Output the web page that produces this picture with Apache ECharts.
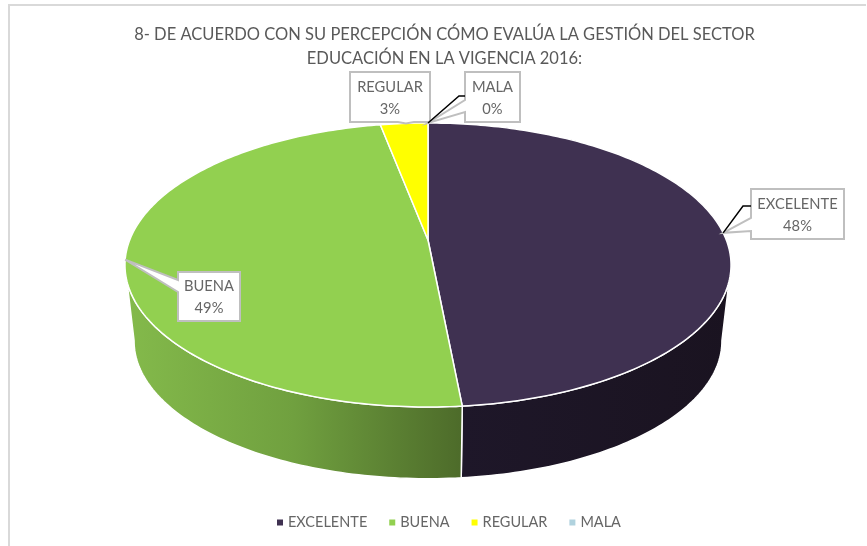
<!DOCTYPE html>
<html>
<head>
<meta charset="utf-8">
<script src="https://cdn.jsdelivr.net/npm/echarts@6/dist/echarts.min.js"></script>
<style>
html,body{margin:0;padding:0;background:#fff}
#main{width:867px;height:546px}
</style>
</head>
<body>
<div id="main"></div>
<script>
// datos
var categories = ['EXCELENTE', 'BUENA', 'REGULAR', 'MALA'];
var values = [48.49, 48.51, 3.0, 0];
var colors = ['#3f3151', '#92d050', '#ffff00', '#b0d2de'];
var titleText = '8- DE ACUERDO CON SU PERCEPCIÓN CÓMO EVALÚA LA GESTIÓN DEL SECTOR\nEDUCACIÓN EN LA VIGENCIA 2016:';

// degradado de la pared lateral por categoria
var wallStops = [
	[[0, '#1e1729'], [1, '#1a1320']],
	[[0, '#84ba4b'], [0.5, '#70a03f'], [1, '#4d6b2a']],
	[[0, '#b3b300'], [1, '#b3b300']],
	[[0, '#7b9399'], [1, '#7b9399']]
];
// cajas de etiquetas: x,y,w,h, angulo de anclaje, tramo de la cuña, codo de la guia
var labelBoxes = [
	{x: 751, y: 189, w: 93, h: 50, deg: 87, side: 'left', a: 218, b: 231, elbow: [743, 206], end: [751, 206]},
	{x: 178, y: 272, w: 62, h: 49, deg: 262, side: 'left', a: 280, b: 292},
	{x: 350, y: 72, w: 80, h: 50, deg: 355, side: 'bottom', a: 398, b: 414},
	{x: 465, y: 72, w: 55, h: 50, deg: 0, side: 'left', a: 100, b: 112, elbow: [459, 96], end: [465, 96]}
];

// geometria de la tapa en perspectiva
var cx = 428, cy = 240, rx = 298.3, ry = 137.6, k = 0.176;
var midY = 265, depth = 76, shrink = 0.97;

function topPoint(deg) {
	var t = deg * Math.PI / 180;
	var u = Math.sin(t), v = -Math.cos(t), w = 1 - k * v;
	return [cx + rx * u / w, cy + ry * v / w];
}
function bottomPoint(deg) {
	var p = topPoint(deg);
	return [cx + (p[0] - cx) * shrink, midY + depth + (p[1] - midY) * shrink];
}
function arc(fn, a, b) {
	var pts = [], n = Math.max(1, Math.ceil(Math.abs(b - a)));
	for (var i = 0; i <= n; i++) pts.push(fn(a + (b - a) * i / n));
	return pts;
}
function startAngle(idx) {
	var total = 0, before = 0;
	for (var i = 0; i < values.length; i++) {
		total += values[i];
		if (i < idx) before += values[i];
	}
	return before / total * 360;
}

function renderSlice(params, api) {
	var idx = params.seriesIndex;
	var share = api.value(0);
	var a = startAngle(idx);
	var b = a + share / 100 * 360;
	var kids = [];
	// pared lateral: solo la mitad frontal
	var wa = Math.max(a, 100), wb = Math.min(b, 260);
	if (share > 0 && wb > wa) {
		var wall = arc(topPoint, wa, wb).concat(arc(bottomPoint, wb, wa));
		var xs = wall.map(function (p) { return p[0]; });
		kids.push({
			type: 'polygon',
			shape: {points: wall},
			style: {
				fill: new echarts.graphic.LinearGradient(Math.min.apply(null, xs), 0, Math.max.apply(null, xs), 0,
					wallStops[idx].map(function (s) { return {offset: s[0], color: s[1]}; }), true),
				stroke: '#fff', lineWidth: 1.5
			}
		});
	}
	// tapa
	if (share > 0) {
		kids.push({
			type: 'polygon',
			shape: {points: [[cx, cy]].concat(arc(topPoint, a, b))},
			style: {fill: colors[idx], stroke: '#fff', lineWidth: 1.5}
		});
	}
	// etiqueta con cuña
	var box = labelBoxes[idx];
	var anchor = topPoint(box.deg);
	var x2 = box.x + box.w, y2 = box.y + box.h, outline;
	if (box.side === 'left') {
		outline = [[box.x, box.y], [x2, box.y], [x2, y2], [box.x, y2], [box.x, box.b], anchor, [box.x, box.a]];
	} else {
		outline = [[box.x, box.y], [x2, box.y], [x2, y2], [box.b, y2], anchor, [box.a, y2], [box.x, y2]];
	}
	kids.push({
		type: 'polygon',
		shape: {points: outline},
		style: {fill: '#fff', stroke: '#bfbfbf', lineWidth: 2},
		z2: 10
	});
	if (box.elbow) {
		kids.push({
			type: 'polyline',
			shape: {points: [anchor, box.elbow, box.end]},
			style: {fill: null, stroke: '#000', lineWidth: 1.5},
			z2: 12
		});
	}
	kids.push({
		type: 'text',
		style: {
			text: categories[idx] + '\n' + Math.round(share) + '%',
			x: box.x + box.w / 2, y: box.y + box.h / 2 + 1,
			align: 'center', verticalAlign: 'middle',
			fontFamily: 'Lato', fontSize: 14.7, lineHeight: 22, fill: '#666666'
		},
		z2: 11
	});
	return {type: 'group', children: kids};
}

var option = {
	backgroundColor: '#fff',
	animation: false,
	title: {
		text: titleText,
		left: 439.5, top: 18,
		textAlign: 'center',
		textStyle: {fontFamily: 'Lato', fontSize: 16.5, fontWeight: 'normal', color: '#595959', lineHeight: 23.5}
	},
	legend: {
		data: categories,
		left: 272, top: 510,
		icon: 'rect', itemWidth: 6, itemHeight: 6, itemGap: 22,
		textStyle: {fontFamily: 'Lato', fontSize: 14.5, color: '#666666'}
	},
	graphic: [
		{type: 'polyline', shape: {points: [[9, 546], [9, 5], [866, 5]]}, style: {fill: null, stroke: '#d9d9d9', lineWidth: 2}}
	],
	series: categories.map(function (name, i) {
		return {
			name: name,
			type: 'custom',
			coordinateSystem: 'none',
			renderItem: renderSlice,
			itemStyle: {color: colors[i]},
			data: [[values[i]]],
			silent: true
		};
	})
};

var myChart = echarts.init(document.getElementById('main'));
myChart.setOption(option);
</script>
</body>
</html>
